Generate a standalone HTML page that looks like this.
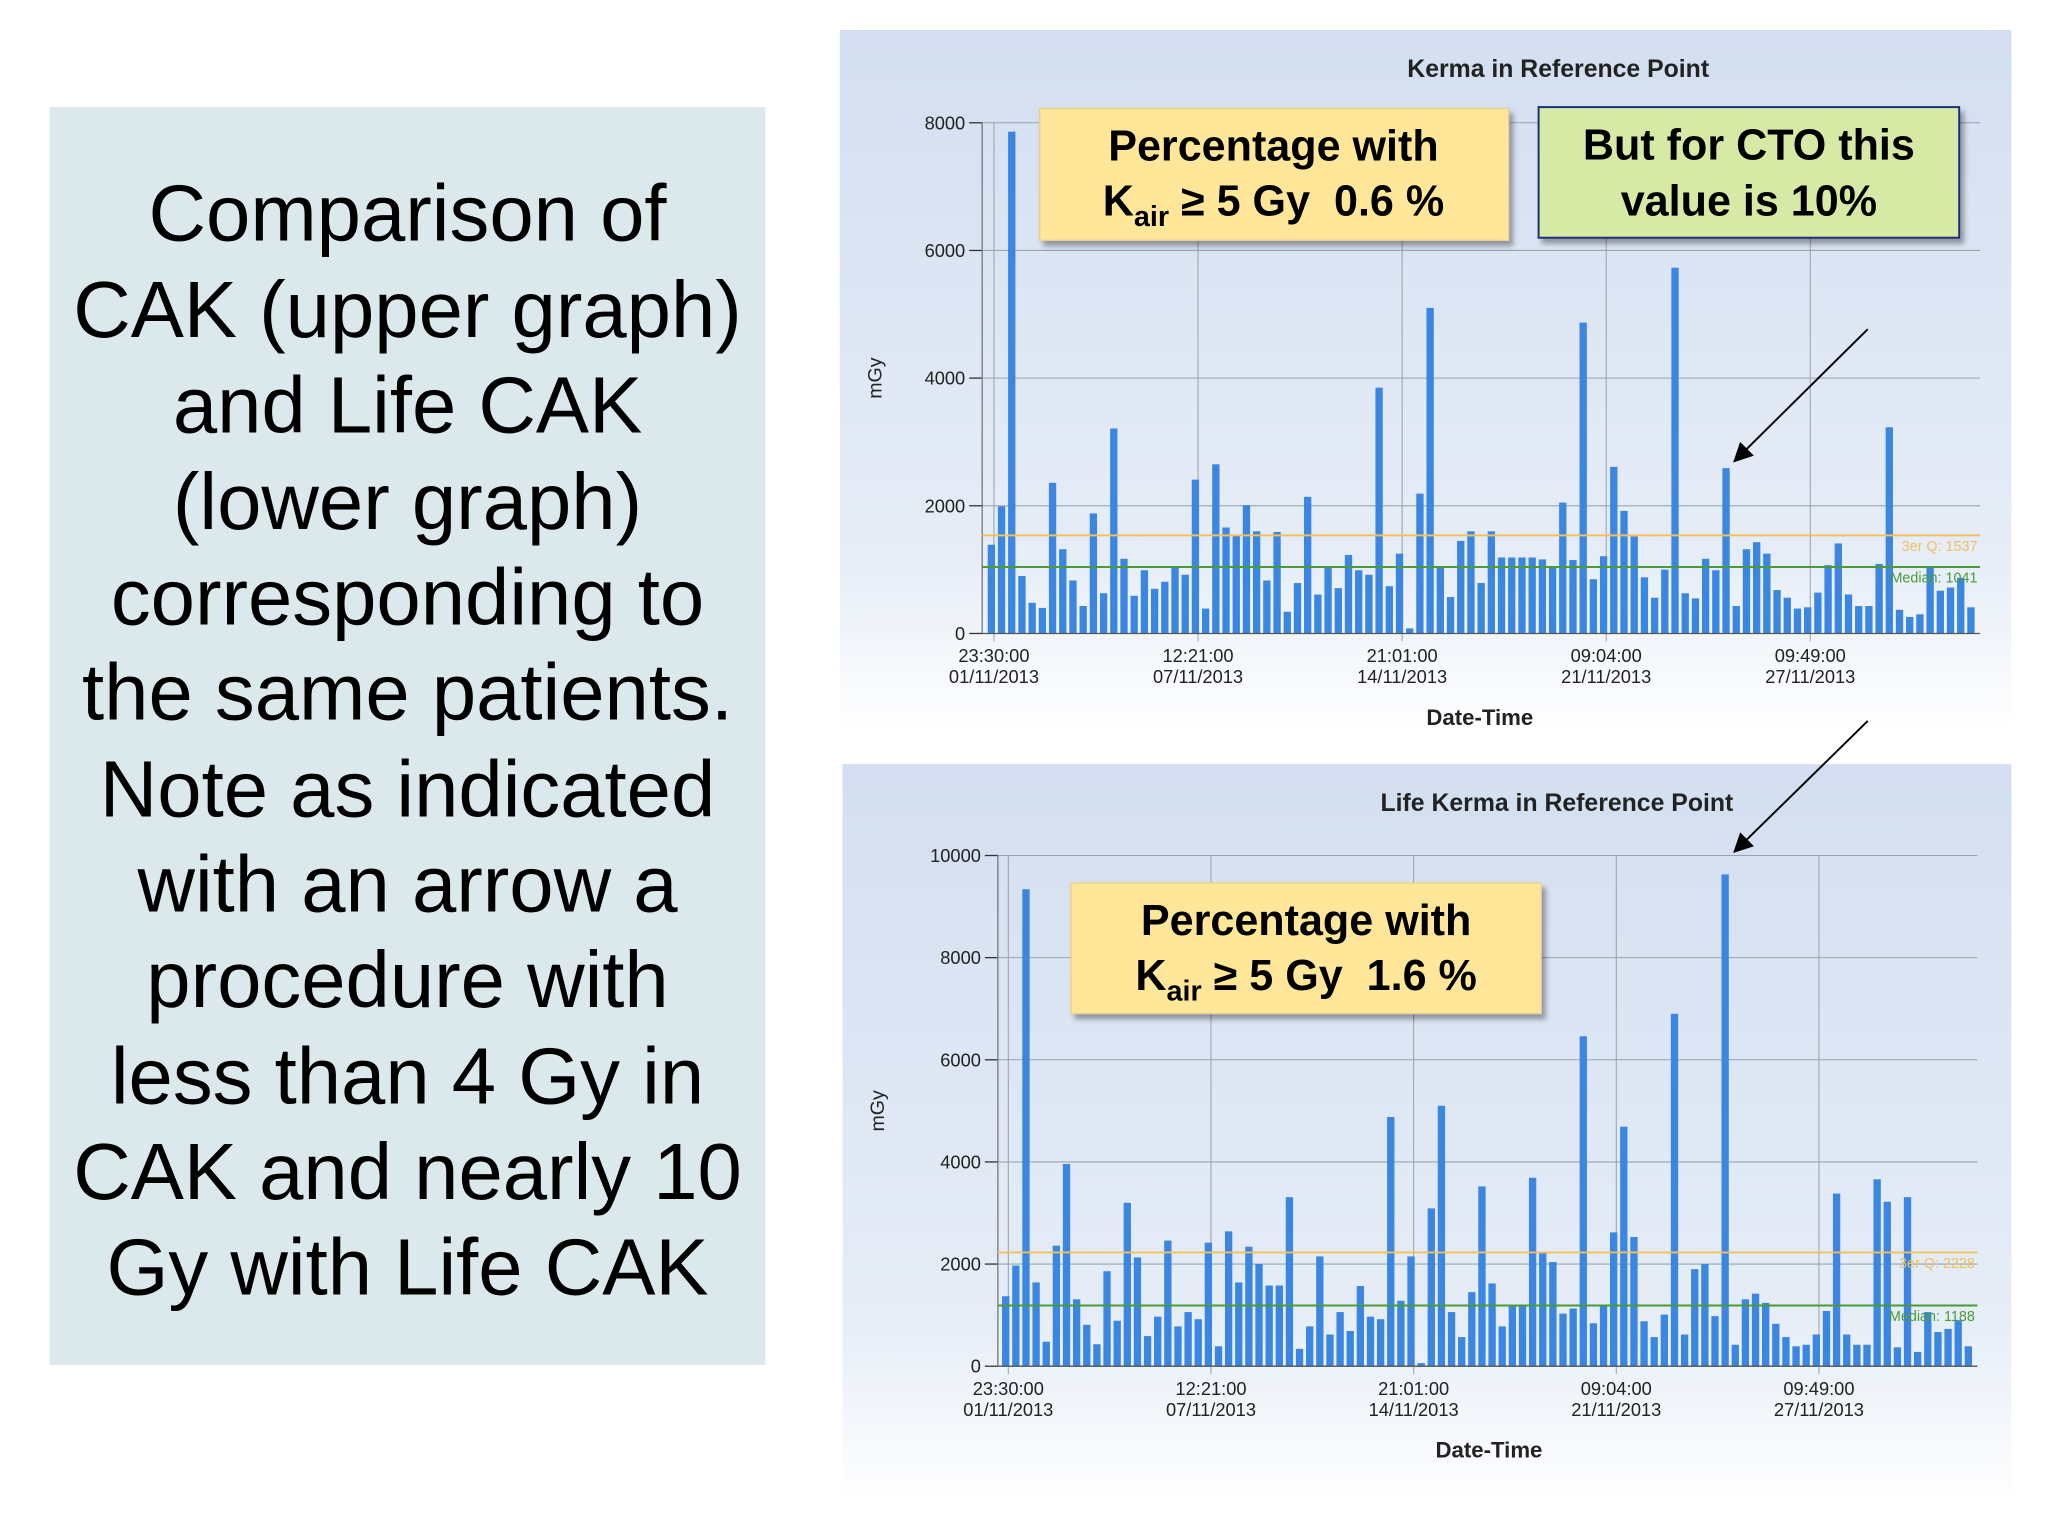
<!DOCTYPE html>
<html><head><meta charset="utf-8"><style>
html,body{margin:0;padding:0;background:#fff}
svg{display:block}
text{font-family:"Liberation Sans",sans-serif}
</style></head><body>
<svg id="root" width="2048" height="1536" viewBox="0 0 1568 1176">
<defs>
<linearGradient id="pg" x1="0" y1="0" x2="0" y2="1"><stop offset="0" stop-color="#d3def0"/><stop offset="0.75" stop-color="#e6edf7"/><stop offset="1" stop-color="#ffffff"/></linearGradient>
<marker id="ah" markerWidth="10" markerHeight="10" refX="9" refY="5" orient="auto"><path d="M0,0 L10,5 L0,10 z" fill="#000"/></marker>
<filter id="sh"><feDropShadow dx="3" dy="4" stdDeviation="2" flood-opacity="0.35"/></filter>
</defs>
<rect x="0" y="0" width="1568" height="1176" fill="#fff"/>
<g>
<rect x="38" y="82" width="548" height="963" fill="#dbe9ec"/>
<text x="312" y="0" font-size="61" text-anchor="middle" fill="#000">
<tspan x="312" y="184">Comparison of</tspan><tspan x="312" y="258">CAK (upper graph)</tspan><tspan x="312" y="331">and Life CAK</tspan><tspan x="312" y="405">(lower graph)</tspan><tspan x="312" y="478">corresponding to</tspan><tspan x="312" y="551">the same patients.</tspan><tspan x="312" y="625">Note as indicated</tspan><tspan x="312" y="698">with an arrow a</tspan><tspan x="312" y="771">procedure with</tspan><tspan x="312" y="845">less than 4 Gy in</tspan><tspan x="312" y="918">CAK and nearly 10</tspan><tspan x="312" y="991">Gy with Life CAK</tspan></text>
</g>
<g id="c1"></g>
<g id="c2"></g>
<g>
<rect x="796" y="83" width="359" height="101" fill="#ffe699" stroke="#e8d08a" filter="url(#sh)"/>
<text x="975" y="123" font-size="33" font-weight="bold" text-anchor="middle">Percentage with</text>
<text x="975" y="165" font-size="33" font-weight="bold" text-anchor="middle">K<tspan font-size="22" dy="8">air</tspan><tspan dy="-8"> ≥ 5 Gy&#160;&#160;0.6 %</tspan></text>
</g>
<g>
<rect x="1178" y="82" width="322" height="100" fill="#d6eaa5" stroke="#1f2f7a" stroke-width="1.5" filter="url(#sh)"/>
<text x="1339" y="122" font-size="33" font-weight="bold" text-anchor="middle">But for CTO this</text>
<text x="1339" y="165" font-size="33" font-weight="bold" text-anchor="middle">value is 10%</text>
</g>
<g>
<rect x="820" y="676" width="360" height="100" fill="#ffe699" stroke="#e8d08a" filter="url(#sh)"/>
<text x="1000" y="716" font-size="33" font-weight="bold" text-anchor="middle">Percentage with</text>
<text x="1000" y="758" font-size="33" font-weight="bold" text-anchor="middle">K<tspan font-size="22" dy="8">air</tspan><tspan dy="-8"> ≥ 5 Gy&#160;&#160;1.6 %</tspan></text>
</g>
<line x1="1430" y1="252" x2="1328" y2="353" stroke="#000" stroke-width="1.5" marker-end="url(#ah)"/>
<line x1="1430" y1="552" x2="1328" y2="652" stroke="#000" stroke-width="1.5" marker-end="url(#ah)"/>
</svg>
<script>
const upperValues=[1390,1990,7860,900,480,400,2360,1320,830,430,1880,630,3210,1170,590,990,700,810,1040,920,2410,390,2650,1660,1540,2010,1600,830,1590,340,790,2140,610,1030,710,1230,990,920,3850,740,1250,80,2190,5100,1030,570,1450,1600,790,1600,1190,1190,1190,1190,1160,1030,2050,1150,4870,850,1210,2610,1920,1520,880,560,1000,5730,630,550,1170,990,2590,430,1320,1430,1250,680,560,390,410,640,1070,1410,610,430,430,1090,3230,370,260,300,1050,670,720,870,410];
const lowerValues=[1370,1970,9340,1640,480,2360,3960,1310,810,430,1860,890,3200,2130,590,970,2460,780,1060,920,2420,390,2640,1640,2340,2000,1580,1580,3310,340,780,2150,620,1060,690,1570,970,920,4880,1280,2150,60,3090,5100,1060,570,1450,3520,1620,780,1180,1180,3690,2230,2040,1030,1130,6460,840,1180,2620,4690,2530,880,570,1010,6900,620,1900,2000,980,9630,420,1310,1420,1240,830,570,390,420,620,1080,3380,620,420,420,3660,3220,370,3310,280,1060,670,730,900,390];
const upperTicks=[0,2000,4000,6000,8000];
const lowerTicks=[0,2000,4000,6000,8000,10000];
const xTimes=["23:30:00","12:21:00","21:01:00","09:04:00","09:49:00"];
const xDates=["01/11/2013","07/11/2013","14/11/2013","21/11/2013","27/11/2013"];
const upperRefs=[{label:"3er Q: 1537",v:1537,c:"#f0c060"},{label:"Median: 1041",v:1041,c:"#4a9a3a"}];
const lowerRefs=[{label:"3er Q: 2228",v:2228,c:"#f0c060"},{label:"Median: 1188",v:1188,c:"#4a9a3a"}];
const NS="http://www.w3.org/2000/svg";
function mk(p,t,a,txt){const e=document.createElementNS(NS,t);for(const k in a)e.setAttribute(k,a[k]);if(txt!==undefined)e.textContent=txt;p.appendChild(e);return e;}
function chart(g,cfg){
  mk(g,'rect',{x:cfg.px,y:cfg.py,width:cfg.pw,height:cfg.ph,fill:'url(#pg)'});
  const t=mk(g,'text',{x:cfg.tx,y:cfg.py+36,'font-size':19,'font-weight':'bold','text-anchor':'middle',fill:'#222'},cfg.title);
  
  
  const ys=v=>cfg.y0-(v/cfg.ymax)*(cfg.y0-cfg.y1);
  const xs=i=>cfg.x0+i*(cfg.xl-cfg.x0)/(cfg.vals.length-1);
  cfg.ticks.forEach(v=>{
    mk(g,'line',{x1:cfg.ax,x2:cfg.right,y1:ys(v),y2:ys(v),stroke:'#9aa3b0','stroke-width':0.8});
    mk(g,'line',{x1:cfg.ax-10,x2:cfg.ax,y1:ys(v),y2:ys(v),stroke:'#333','stroke-width':1});
    const l=mk(g,'text',{x:cfg.ax-13,y:ys(v)+5,'font-size':14,'text-anchor':'end',fill:'#222'},String(v));
    
    
  });
  cfg.tickIdx.forEach((ti,k)=>{
    const x=xs(ti)+2;
    mk(g,'line',{x1:x,x2:x,y1:cfg.y1,y2:cfg.y0+6,stroke:'#9aa3b0','stroke-width':0.8});
    const a=mk(g,'text',{x:x,y:cfg.y0+22,'font-size':14,'text-anchor':'middle',fill:'#222'},xTimes[k]);
    
    
    const b=mk(g,'text',{x:x,y:cfg.y0+38,'font-size':14,'text-anchor':'middle',fill:'#222'},xDates[k]);
    
    
  });
  mk(g,'line',{x1:cfg.ax,x2:cfg.ax,y1:cfg.y1,y2:cfg.y0,stroke:'#777','stroke-width':1});
  cfg.vals.forEach((v,i)=>{
    const r=mk(g,'rect',{x:xs(i)-2.8,y:ys(v),width:5.6,height:cfg.y0-ys(v),fill:'#3a86e0'});
    
    
  });
  mk(g,'line',{x1:cfg.ax,x2:cfg.right,y1:cfg.y0,y2:cfg.y0,stroke:'#555','stroke-width':1});
  cfg.refs.forEach(r=>{
    mk(g,'line',{x1:cfg.ax,x2:cfg.right,y1:ys(r.v),y2:ys(r.v),stroke:r.c,'stroke-width':1.5});
    const l=mk(g,'text',{x:cfg.right-2,y:ys(r.v)+12,'font-size':11,'text-anchor':'end',fill:r.c},r.label);
    
    
  });
  const yt=mk(g,'text',{x:0,y:0,'font-size':15,'text-anchor':'middle',fill:'#222',transform:`translate(${cfg.px+32},${(cfg.y0+cfg.y1)/2}) rotate(-90)`},'mGy');
  
  
  const xt=mk(g,'text',{x:cfg.dx,y:cfg.y0+70,'font-size':17,'font-weight':'bold','text-anchor':'middle',fill:'#222'},'Date-Time');
  
  
}
chart(document.getElementById('c1'),{px:643,py:23,pw:897,ph:537,tx:1193,dx:1133,title:'Kerma in Reference Point',vals:upperValues,ticks:upperTicks,ymax:8000,y0:485,y1:94,x0:759,xl:1509,ax:752,right:1516,tickIdx:[0,20,40,60,80],refs:upperRefs});
chart(document.getElementById('c2'),{px:645,py:585,pw:895,ph:565,tx:1192,dx:1140,title:'Life Kerma in Reference Point',vals:lowerValues,ticks:lowerTicks,ymax:10000,y0:1046,y1:655,x0:770,xl:1507,ax:764,right:1514,tickIdx:[0,20,40,60,80],refs:lowerRefs});
</script>
</body></html>
